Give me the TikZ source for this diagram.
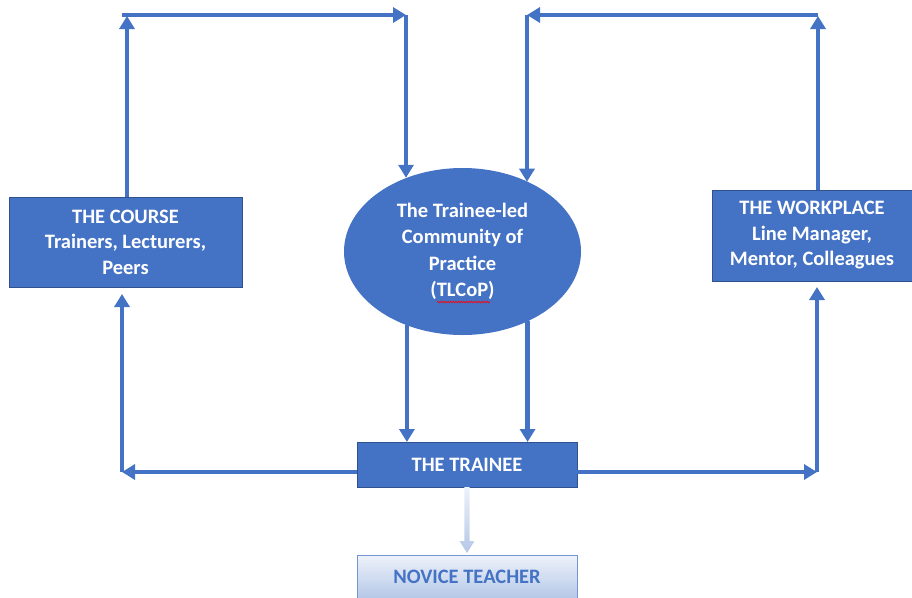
\documentclass[tikz,border=0pt]{standalone}
\usepackage{fontspec}
\setmainfont{Carlito}
\usetikzlibrary{arrows.meta,shapes.geometric,decorations.pathmorphing}
\definecolor{officeblue}{HTML}{4472C4}
\definecolor{boxedge}{HTML}{2F528F}
\definecolor{paleblue}{HTML}{B4C7E7}
\definecolor{palest}{HTML}{EEF2FA}
\begin{document}
\begin{tikzpicture}[x=1pt,y=-1pt,
  bluebox/.style={rectangle, draw=boxedge, line width=0.8pt, fill=officeblue,
    text=white, font=\fontsize{20.5}{25.5}\selectfont\bfseries, align=center,
    inner sep=0pt, outer sep=0pt},
  blueoval/.style={ellipse, draw=none, fill=officeblue,
    text=white, font=\fontsize{20.5}{26.5}\selectfont\bfseries, align=center,
    inner sep=0pt, outer sep=0pt},
  palebox/.style={rectangle, draw=officeblue!75, line width=0.8pt,
    top color=palest, bottom color=paleblue,
    text=officeblue, font=\fontsize{20.5}{25}\selectfont\bfseries,
    inner sep=0pt, outer sep=0pt},
  link/.style={draw=officeblue, line width=4.5pt,
    -{Triangle[width=15pt,length=13pt]}}
]
\useasboundingbox (0,0) rectangle (912,597);

% boxes and the central community
\node[bluebox, minimum width=233pt, minimum height=90pt] (course) at (125.5,242)
  {THE COURSE\\Trainers, Lecturers,\\Peers};
\node[bluebox, minimum width=200pt, minimum height=91pt] (work) at (812,235.5)
  {THE WORKPLACE\\Line Manager,\\Mentor, Colleagues};
\node[blueoval, minimum width=237pt, minimum height=167pt] (tlcop) at (462.5,251.5)
  {The Trainee-led\\Community of\\Practice\\(TLCoP)};
\node[bluebox, minimum width=220pt, minimum height=45pt] (trainee) at (467,464.5)
  {THE TRAINEE};
\node[palebox, minimum width=220pt, minimum height=44pt] (novice) at (467,577)
  {NOVICE TEACHER};

% spell-check underline beneath the acronym
\draw[red, line width=0.6pt, decorate,
  decoration={snake, amplitude=0.8pt, segment length=2.6pt}]
  (437,302) -- (490,302);

% routing corners
\coordinate (ctop)  at (127,15);
\coordinate (ltop)  at (122,15);
\coordinate (mleft) at (406,15);
\coordinate (mright) at (527,15);
\coordinate (rtop)  at (818,15);
\coordinate (lbot)  at (122,472);
\coordinate (rbot)  at (817,472);

% course -> community
\draw[link, shorten >=-1pt] (course.north -| ctop) -- (ctop |- 0,17);
\draw[link] (ltop) -- (mleft);
\draw[link] (mleft) -- (mleft |- tlcop.127.5);

% workplace -> community
\draw[link, shorten >=-1pt] (work.north -| rtop) -- (rtop |- 0,17);
\draw[link] (rtop) -- (mright);
\draw[link] (mright) -- (mright |- tlcop.47.3);

% community -> trainee
\draw[link] (tlcop.-127.5) -- (tlcop.-127.5 |- trainee.north);
\draw[link] (tlcop.-47.3) -- (tlcop.-47.3 |- trainee.north);

% trainee -> course and workplace
\draw[link] (trainee.west |- lbot) -- (lbot);
\draw[link, shorten >=7pt] (lbot) -- (lbot |- course.south);
\draw[link] (trainee.east |- rbot) -- (rbot);
\draw[link, shorten >=6pt] (rbot) -- (rbot |- work.south);

% trainee -> novice teacher (faded arrow)
\shade[top color=palest, bottom color=paleblue]
  ([xshift=-2.6pt]trainee.south) -- ([xshift=2.6pt]trainee.south)
  -- ([xshift=2.6pt,yshift=14pt]novice.north)
  -- ([xshift=7.5pt,yshift=14pt]novice.north)
  -- ([yshift=2pt]novice.north)
  -- ([xshift=-7.5pt,yshift=14pt]novice.north)
  -- ([xshift=-2.6pt,yshift=14pt]novice.north) -- cycle;
\end{tikzpicture}
\end{document}
